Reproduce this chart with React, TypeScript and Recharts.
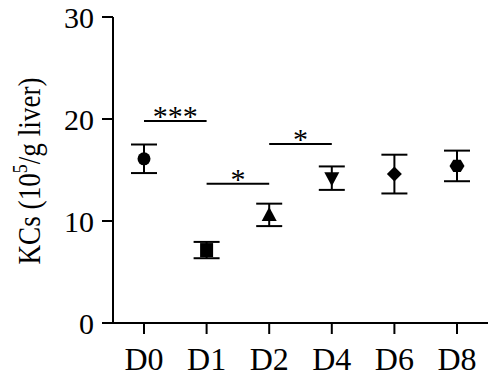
import { ComposedChart, Scatter, XAxis, YAxis, ErrorBar, ReferenceLine } from 'recharts'

const days = ['D0', 'D1', 'D2', 'D4', 'D6', 'D8']
const means = [16.1, 7.15, 10.6, 14.2, 14.6, 15.4]
const errors = [1.4, 0.8, 1.1, 1.15, 1.9, 1.5]
const yTicks = [0, 10, 20, 30]

// significance brackets
const sigFrom = ['D0', 'D1', 'D2']
const sigTo = ['D1', 'D2', 'D4']
const sigY = [19.8, 13.65, 17.55]
const sigText = ['***', '*', '*']

const FONT = '"Liberation Serif", "Times New Roman", serif'
const markers: Record<string, string> = {
  D0: 'circle', D1: 'square', D2: 'triangle', D4: 'triangleDown', D6: 'diamond', D8: 'hexagon',
}

const data = days.map((day, i) => ({ day, value: means[i], err: errors[i] }))

const Marker = (props: any) => {
  const { cx, cy, payload } = props
  if (cx == null || cy == null) return null
  const kind = markers[payload.day]
  const f = '#000'
  switch (kind) {
    case 'circle':
      return <circle cx={cx} cy={cy} r={6.5} fill={f} />
    case 'square':
      return <rect x={cx - 6.5} y={cy - 7} width={13} height={14} fill={f} />
    case 'triangle':
      return <polygon points={`${cx},${cy - 8} ${cx + 7.5},${cy + 6} ${cx - 7.5},${cy + 6}`} fill={f} />
    case 'triangleDown':
      return <polygon points={`${cx},${cy + 8} ${cx + 7.5},${cy - 6} ${cx - 7.5},${cy - 6}`} fill={f} />
    case 'diamond':
      return <polygon points={`${cx},${cy - 7.5} ${cx + 7.5},${cy} ${cx},${cy + 7.5} ${cx - 7.5},${cy}`} fill={f} />
    default: {
      const pts = [0, 60, 120, 180, 240, 300].map(a => {
        const r = (a * Math.PI) / 180
        return `${cx + 7.5 * Math.cos(r)},${cy + 7 * Math.sin(r)}`
      })
      return <polygon points={pts.join(' ')} fill={f} />
    }
  }
}

const YLabel = () => (
  <text
    x={0}
    y={0}
    transform="translate(40, 171) rotate(-90) scale(0.85, 1)"
    textAnchor="middle"
    fontFamily={FONT}
    fontSize={32}
    fill="#000"
  >
    KCs (10<tspan fontSize={21} dy={-13}>5</tspan><tspan dy={13}>/g liver)</tspan>
  </text>
)

export default function App() {
  return (
    <div style={{ position: 'absolute', left: 0, top: 0 }}>
      <ComposedChart width={489} height={382} data={data} margin={{ top: 17, right: 1, bottom: 0, left: 0 }}>
        <XAxis
          dataKey="day"
          type="category"
          padding={{ left: 31, right: 31 }}
          tickSize={11}
          tickMargin={13}
          height={59}
          tick={{ fill: '#000', fontSize: 32, fontFamily: FONT }}
          axisLine={{ stroke: '#000', strokeWidth: 2 }}
          tickLine={{ stroke: '#000', strokeWidth: 2 }}
        />
        <YAxis
          type="number"
          domain={[0, 30]}
          ticks={yTicks}
          width={113}
          tickSize={11}
          tickMargin={8}
          tick={{ fill: '#000', fontSize: 30, fontFamily: FONT }}
          axisLine={{ stroke: '#000', strokeWidth: 2 }}
          tickLine={{ stroke: '#000', strokeWidth: 2 }}
          label={{ content: () => <YLabel /> }}
        />
        {sigText.map((t, i) => (
          <ReferenceLine
            key={i}
            segment={[{ x: sigFrom[i], y: sigY[i] }, { x: sigTo[i], y: sigY[i] }]}
            stroke="#000"
            strokeWidth={2}
            ifOverflow="visible"
            label={{ value: t, position: 'top', offset: -5, fill: '#000', fontSize: 30, fontFamily: FONT }}
          />
        ))}
        <Scatter dataKey="value" shape={Marker} isAnimationActive={false}>
          <ErrorBar dataKey="err" direction="y" width={13} stroke="#000" strokeWidth={2} />
        </Scatter>
      </ComposedChart>
    </div>
  )
}
